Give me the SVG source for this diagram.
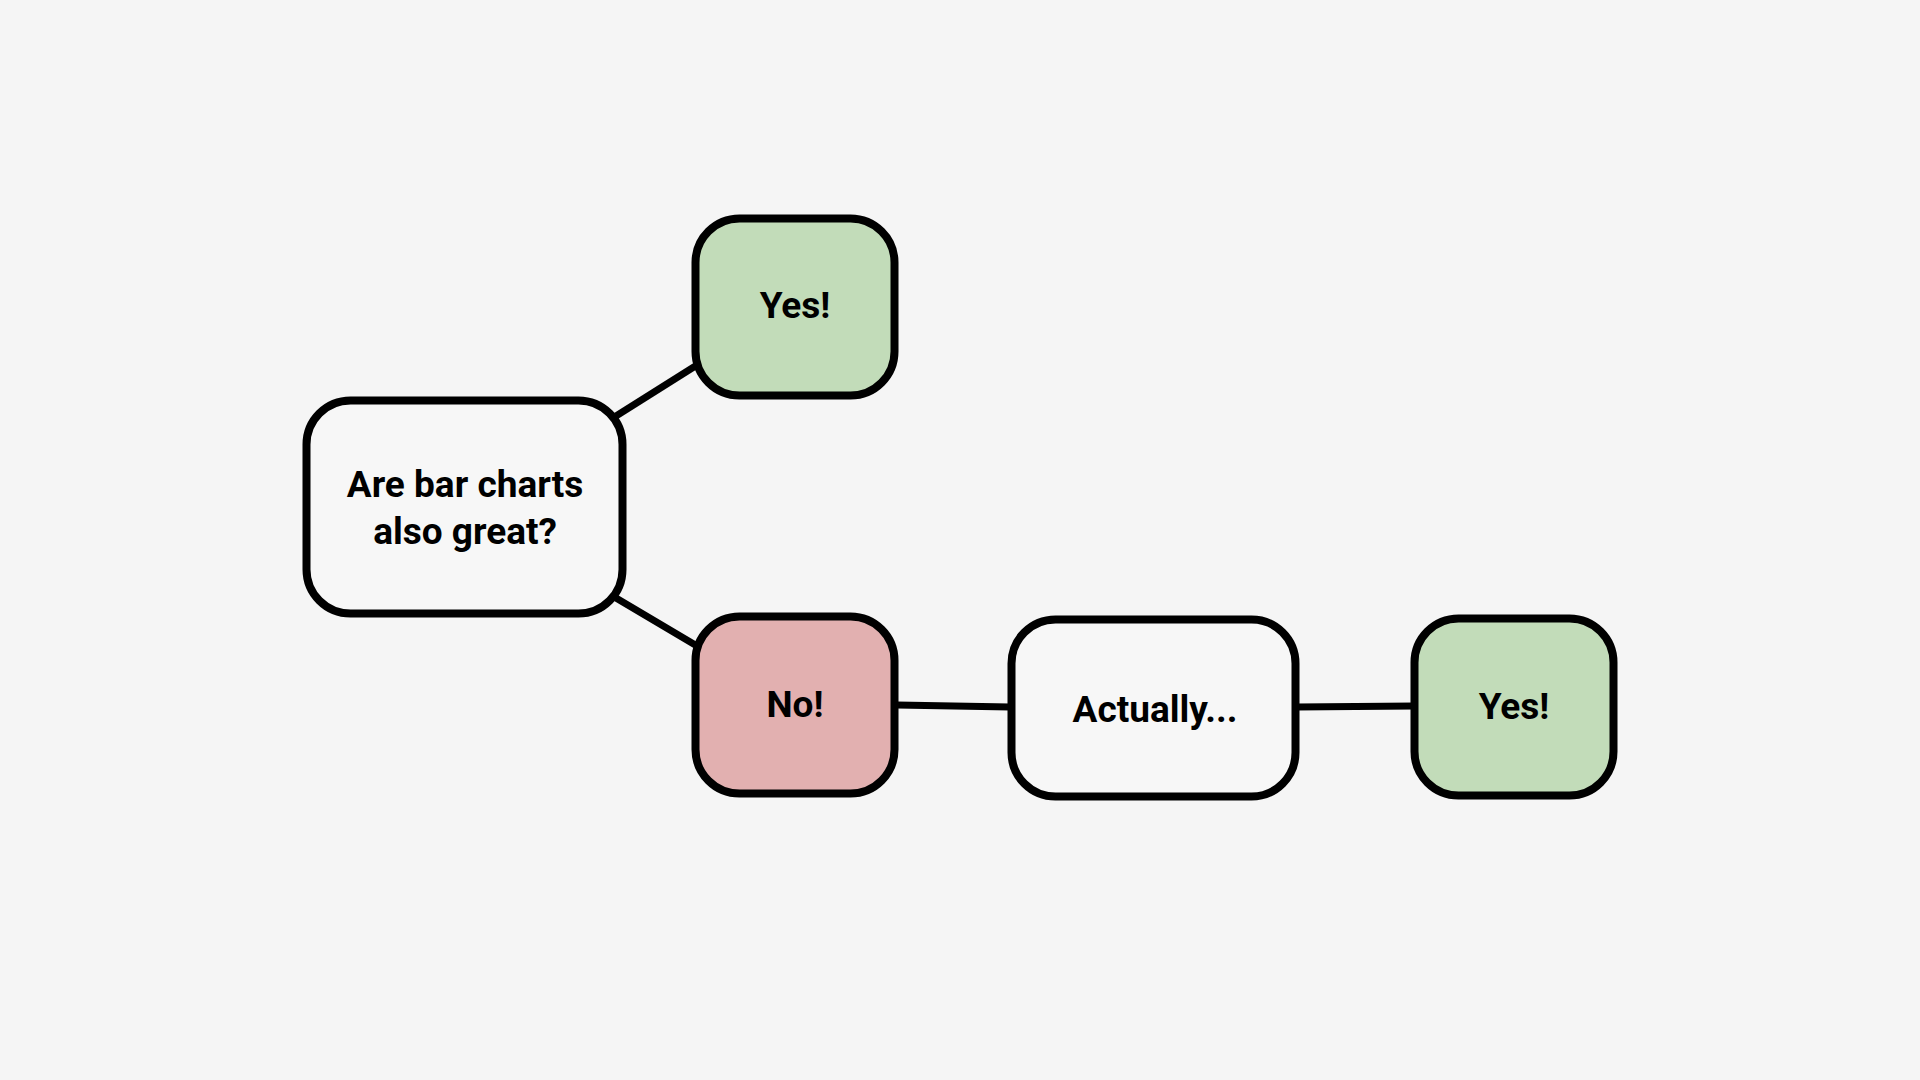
<svg xmlns="http://www.w3.org/2000/svg" width="1920" height="1080" viewBox="0 0 1920 1080">
<style>
.box{stroke:#000;stroke-width:8}
.q{fill:#f7f7f7}
.g{fill:#c2dcb9}
.r{fill:#e2b0b0}
.lbl{font-family:Roboto,"Liberation Sans",sans-serif;font-weight:700;font-size:37px;fill:#000;text-anchor:middle}
.edge{stroke:#000;stroke-width:7;fill:none}
</style>
<rect width="1920" height="1080" fill="#f5f5f5"/>
<g id="connectors">
<line class="edge" x1="616" y1="416" x2="697" y2="365"/>
<line class="edge" x1="616" y1="598" x2="697" y2="646"/>
<line class="edge" x1="897" y1="705" x2="1010" y2="707"/>
<line class="edge" x1="1297" y1="707" x2="1414" y2="706"/>
</g>
<g id="question">
<rect class="box q" x="306.5" y="400.5" width="316" height="213" rx="44"/>
<text class="lbl" x="465" y="497">Are bar charts</text>
<text class="lbl" x="465" y="544">also great?</text>
</g>
<g id="yes1">
<rect class="box g" x="695.5" y="218.5" width="199" height="177" rx="44"/>
<text class="lbl" x="795" y="318">Yes!</text>
</g>
<g id="no">
<rect class="box r" x="695.5" y="616.5" width="199" height="177" rx="44"/>
<text class="lbl" x="795" y="717">No!</text>
</g>
<g id="actually">
<rect class="box q" x="1011.5" y="619.5" width="284" height="177" rx="44"/>
<text class="lbl" x="1155" y="722">Actually...</text>
</g>
<g id="yes2">
<rect class="box g" x="1414.5" y="618.5" width="199" height="177" rx="44"/>
<text class="lbl" x="1514" y="719">Yes!</text>
</g>
</svg>
